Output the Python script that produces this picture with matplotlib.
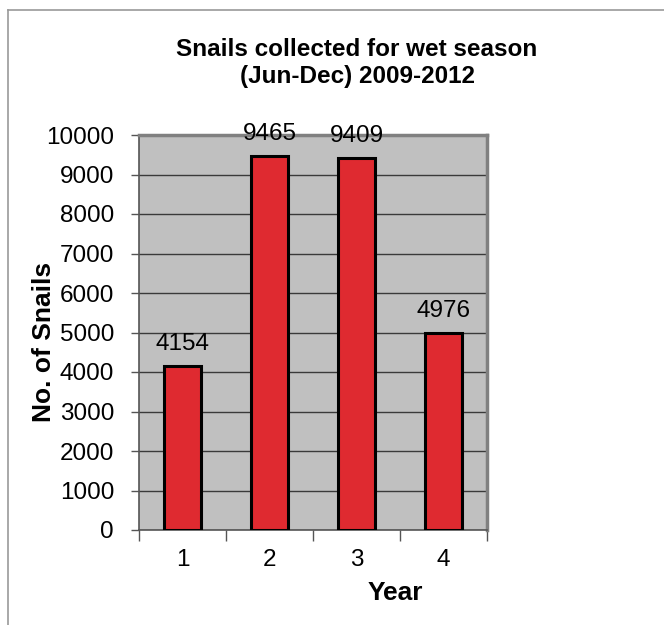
import matplotlib
matplotlib.use("Agg")
import matplotlib.pyplot as plt
from matplotlib.lines import Line2D

years = ["1", "2", "3", "4"]
snails = [4154, 9465, 9409, 4976]
yticks = [0, 1000, 2000, 3000, 4000, 5000, 6000, 7000, 8000, 9000, 10000]

plt.rcParams["font.family"] = ["Liberation Sans", "DejaVu Sans"]

fig = plt.figure(figsize=(6.64, 6.25), dpi=100)
ax = fig.add_axes([139 / 664, 1 - 530 / 625, (487 - 139) / 664, (530 - 135) / 625])
ax.set_facecolor("#C0C0C0")

x = list(range(len(years)))
ax.bar(x, snails, width=0.42, color="#DF2A30", edgecolor="black", linewidth=2.2, zorder=3)
for xi, v in zip(x, snails):
    ax.text(xi, v + 280, str(v), ha="center", va="bottom", fontsize=17.5, zorder=4)

ax.set_xlim(-0.5, len(years) - 0.5)
ax.set_ylim(0, 10000)
ax.set_yticks(yticks)
ax.set_yticklabels([str(t) for t in yticks], fontsize=17.5)
ax.yaxis.grid(True, color="#3a3a3a", linewidth=1.0, zorder=1)
ax.set_axisbelow(True)

# category labels centred, ticks on the boundaries
ax.set_xticks([i - 0.5 for i in range(len(years) + 1)])
ax.set_xticklabels([""] * (len(years) + 1))
ax.set_xticks(x, minor=True)
ax.set_xticklabels(years, minor=True, fontsize=17.5)
ax.tick_params(axis="x", which="minor", length=0, pad=14)
ax.tick_params(axis="x", which="major", length=8, width=1, color="#555555")
ax.tick_params(axis="y", length=6, width=1, color="#555555", pad=12)

for side in ["top", "right"]:
    ax.spines[side].set_color("#808080")
    ax.spines[side].set_linewidth(2.5)
for side in ["left", "bottom"]:
    ax.spines[side].set_color("#555555")
    ax.spines[side].set_linewidth(1.2)

ax.set_ylabel("No. of Snails", fontsize=19, fontweight="bold")
ax.yaxis.set_label_coords(-0.238, 0.476)
ax.set_xlabel("Year", fontsize=19, fontweight="bold")
ax.xaxis.set_label_coords(0.736, -0.128)

fig.text(357 / 664, 1 - 63 / 625, "Snails collected for wet season\n(Jun-Dec) 2009-2012",
         ha="center", va="center", fontsize=17.5, fontweight="bold", linespacing=1.25)

# outer frame (left and top edges)
fig.add_artist(Line2D([8 / 664, 8 / 664], [0, 1 - 10 / 625], transform=fig.transFigure,
                      color="#999999", linewidth=1.2))
fig.add_artist(Line2D([8 / 664, 1], [1 - 10 / 625, 1 - 10 / 625], transform=fig.transFigure,
                      color="#999999", linewidth=1.2))

fig.savefig("out.png", dpi=100, facecolor="white")
